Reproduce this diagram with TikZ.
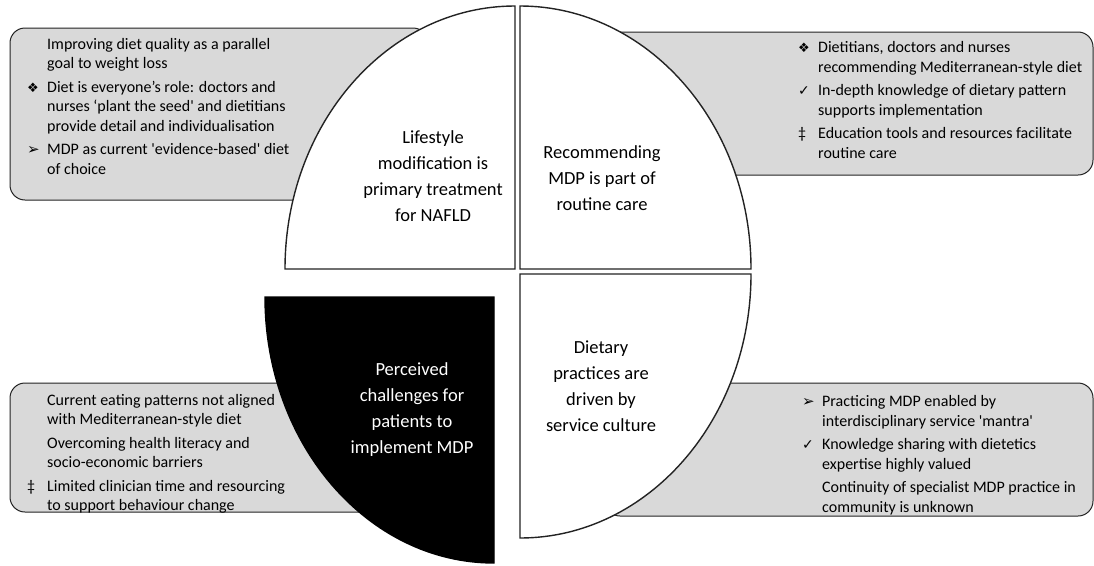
\documentclass[tikz,border=0pt]{standalone}
\usepackage{fontspec}
\setmainfont{Carlito}
\newfontfamily\symf{DejaVu Sans}
\definecolor{boxgray}{RGB}{217,217,217}
\definecolor{edgecol}{RGB}{35,35,35}
\newcommand{\bl}[1]{\makebox[20pt][l]{#1}}
\newcommand{\bdia}{{\symf\fontsize{13}{13}\selectfont ❖}}
\newcommand{\bchk}{{\symf\fontsize{14}{14}\selectfont ✓}}
\newcommand{\barr}{{\symf\fontsize{15}{15}\selectfont ➢}}
\newcommand{\bdag}{‡}
\newcommand{\sq}{\textquotesingle}
\begin{document}
\begin{tikzpicture}[x=1pt,y=1pt,
  gbox/.style={draw=edgecol, fill=boxgray, line width=1pt, rounded corners=15pt},
  quad/.style={draw=edgecol, line width=1.4pt, fill=white},
  quadblack/.style={draw=black, line width=1.4pt, fill=black},
  btext/.style={font=\fontsize{16}{19.5}\selectfont, align=left, anchor=west, inner sep=0pt},
  qtext/.style={font=\fontsize{18.5}{26}\selectfont, align=center, inner sep=0pt}]
\useasboundingbox[fill=white] (0,0) rectangle (1094,-565);
% grey boxes
\path[gbox] (10,-28) rectangle (428,-200);
\path[gbox] (580,-32) rectangle (1093,-175);
\path[gbox] (10,-383) rectangle (420,-512);
\path[gbox] (605,-383) rectangle (1093,-516);
% quadrants
\path[quad] (515,-269) -- (285,-269) arc[start angle=180, end angle=90, x radius=230, y radius=263] -- cycle;
\path[quad] (520,-269) -- (520,-6) arc[start angle=90, end angle=0, x radius=231, y radius=263] -- cycle;
\path[quad] (520,-274) -- (751,-274) arc[start angle=0, end angle=-90, x radius=231, y radius=264] -- cycle;
\path[quadblack] (494,-297) -- (494,-563) arc[start angle=-90, end angle=-180, x radius=229, y radius=266] -- cycle;
% quadrant texts
\node[qtext] (lifestyle) at (433,-176) {Lifestyle\\modification is\\primary treatment\\for NAFLD};
\node[qtext] (routine) at (602,-178) {Recommending\\MDP is part of\\routine care};
\node[qtext] (culture) at (601,-386) {Dietary\\practices are\\driven by\\service culture};
\node[qtext, text=white] (challenges) at (412,-410) {Perceived\\challenges for\\patients to\\implement MDP};
% box texts
\node[btext] (t1) at (27,-106) {\bl{}Improving diet quality as a parallel\\ \bl{}goal to weight loss\\[4pt]
\bl{\bdia}Diet is everyone’s role: doctors and\\ \bl{}nurses ‘plant the seed\sq{} and dietitians\\ \bl{}provide detail and individualisation\\[4pt]
\bl{\barr}MDP as current \sq{}evidence-based\sq{} diet\\ \bl{}of choice};
\node[btext] (t2) at (798,-100) {\bl{\bdia}Dietitians, doctors and nurses\\ \bl{}recommending Mediterranean-style diet\\[4pt]
\bl{\bchk}In-depth knowledge of dietary pattern\\ \bl{}supports implementation\\[4pt]
\bl{\bdag}Education tools and resources facilitate\\ \bl{}routine care};
\node[btext] (t3) at (27,-454) {\bl{}Current eating patterns not aligned\\ \bl{}with Mediterranean-style diet\\[4pt]
\bl{}Overcoming health literacy and\\ \bl{}socio-economic barriers\\[4pt]
\bl{\bdag}Limited clinician time and resourcing\\ \bl{}to support behaviour change};
\node[btext] (t4) at (802,-455) {\bl{\barr}Practicing MDP enabled by\\ \bl{}interdisciplinary service \sq{}mantra\sq{}\\[4pt]
\bl{\bchk}Knowledge sharing with dietetics\\ \bl{}expertise highly valued\\[4pt]
\bl{}Continuity of specialist MDP practice in\\ \bl{}community is unknown};
\end{tikzpicture}
\end{document}
